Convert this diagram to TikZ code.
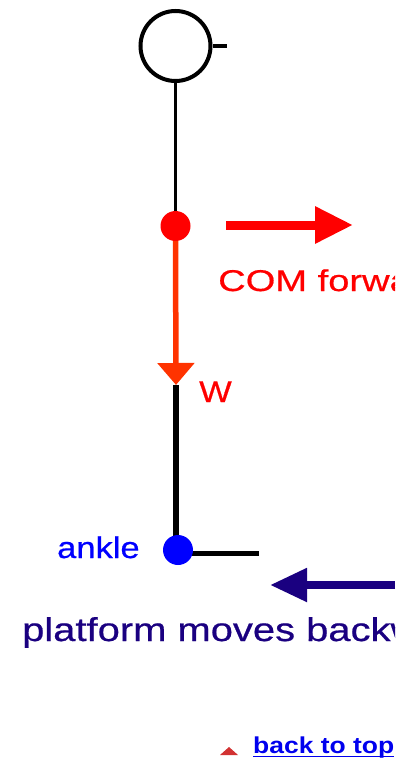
\documentclass[tikz,border=0pt]{standalone}
\usepackage{fontspec}
\setmainfont{Liberation Sans}
\newfontfamily\labfont[FakeStretch=1.15,FakeBold=0.6]{Liberation Sans}
\newfontfamily\comfont[FakeStretch=1.27,FakeBold=0.6]{Liberation Sans}
\newfontfamily\platfont[FakeStretch=1.21,FakeBold=0.6]{Liberation Sans}
\newfontfamily\linkfont[FakeStretch=1.15]{Liberation Sans}
\usetikzlibrary{arrows.meta,backgrounds}
\definecolor{comred}{RGB}{255,0,0}
\definecolor{wline}{RGB}{255,51,0}
\definecolor{navy}{RGB}{26,0,128}
\definecolor{ankleblue}{RGB}{0,0,255}
\definecolor{linkblue}{RGB}{0,0,238}
\definecolor{triared}{RGB}{210,50,50}
\tikzset{
  lbl/.style={inner sep=0pt, anchor=base west, font=\labfont\fontsize{30}{36}\selectfont},
  joint/.style={circle, inner sep=0pt, minimum size=30pt},
  bigarrow/.style={line width=9pt, -{Triangle[width=35pt,length=38pt]}},
}
\begin{document}
\begin{tikzpicture}[x=1pt,y=-1pt]
\useasboundingbox (0,0) rectangle (411,760);
% head
\node[circle, draw=black, line width=4pt, minimum size=70pt, inner sep=0pt] (head) at (175.5,46) {};
\coordinate (tick) at (227,46);
\draw[line width=4pt] (head.east) -- (tick);
% joints
\node[joint, fill=comred] (com) at (175.5,226) {};
\node[joint, fill=ankleblue] (ankle) at (178,550) {};
\coordinate (wtip) at (176,385);
\coordinate (toe) at (259,553);
% body
\begin{scope}[on background layer]
\draw[line width=3pt] (head.south) -- (com.center);
\draw[line width=6pt] (wtip) -- (wtip |- ankle.center);
\draw[line width=5pt] (ankle.center |- toe) -- (toe);
\end{scope}
\draw[line width=5.5pt, color=wline, -{Triangle[width=36pt,length=22pt]}] (com.south) -- (wtip);
% COM arrow
\coordinate (comA) at (226,225);
\coordinate (comB) at (353,225);
\draw[bigarrow, color=comred] (comA) -- (comB);
% platform arrow
\coordinate (platA) at (395,585);
\coordinate (platB) at (270,585);
\begin{scope}
\clip (0,0) rectangle (395,760);
\draw[line width=8pt, color=navy, -{Triangle[width=32pt,length=37pt]}] (platA) -- (platB);
\node[lbl, text=comred, font=\comfont\fontsize{30}{36}\selectfont] (comtxt) at (218,291) {COM forward};
\node[lbl, text=navy, font=\platfont\fontsize{33}{40}\selectfont] (plattxt) at (22,641) {platform moves backward};
\end{scope}
\node[lbl, text=comred] (wtxt) at (199,402) {W};
\node[lbl, text=ankleblue] (ankletxt) at (57,558) {ankle};
% back to top
\node[inner sep=0pt, anchor=base west, text=linkblue, font=\linkfont\fontsize{23}{28}\selectfont\bfseries] (top) at (253,753) {back to top};
\draw[linkblue, line width=1.6pt] ([yshift=-3.5pt]top.base west) -- ([yshift=-3.5pt]top.base east);
\coordinate (t1) at (220,755);
\coordinate (t2) at (238,755);
\coordinate (t3) at (229,747);
\fill[triared] (t1) -- (t2) -- (t3) -- cycle;
\end{tikzpicture}
\end{document}
